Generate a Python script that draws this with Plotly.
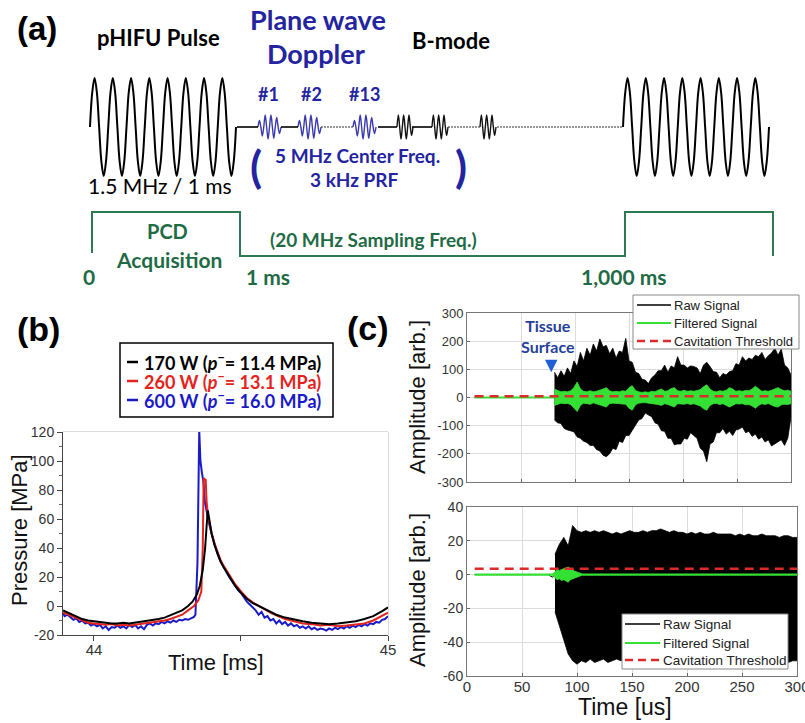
import plotly.graph_objects as go

W, H = 805, 723
CAL = "Lato, Open Sans, sans-serif"
ARIAL = "Liberation Sans, Arial, sans-serif"
BLUE = "#2424a0"
GREEN_T = "#1f6b45"

# ---------------- Panel (b) data: pressure waveforms ----------------
t_170 = [43.895, 43.92, 43.94, 43.96, 43.98, 44.00, 44.02, 44.04, 44.06, 44.08,
         44.10, 44.12, 44.14, 44.16, 44.18, 44.20, 44.22, 44.24, 44.26, 44.28,
         44.30, 44.32, 44.335, 44.35, 44.36, 44.37, 44.378, 44.383, 44.387, 44.392,
         44.40, 44.41, 44.42, 44.43, 44.44, 44.46, 44.48, 44.50, 44.52, 44.54,
         44.56, 44.58, 44.60, 44.62, 44.65, 44.68, 44.71, 44.74, 44.77, 44.80,
         44.83, 44.86, 44.89, 44.92, 44.95, 44.98, 45.00]
p_170 = [-3, -5.5, -7.5, -9, -10, -10.5, -11.5, -11.5, -12, -12,
         -11.5, -12, -11.5, -11, -10.5, -10, -9, -8, -6.5, -5,
         -3, 0, 3, 8, 14, 25, 40, 55, 66, 60,
         50, 42, 36, 31, 27, 20, 14, 9, 5, 2,
         0, -2.5, -4.5, -6, -8, -9.5, -10.5, -11.5, -12, -12.5,
         -12, -11.5, -10.5, -9, -7, -3.5, -1]

t_260 = [43.895, 43.92, 43.94, 43.96, 43.98, 44.00, 44.02, 44.04, 44.06, 44.08,
         44.10, 44.12, 44.14, 44.16, 44.18, 44.20, 44.22, 44.24, 44.26, 44.28,
         44.30, 44.32, 44.34, 44.355, 44.365, 44.37, 44.373, 44.38, 44.383, 44.388,
         44.395, 44.40, 44.41, 44.42, 44.43, 44.44, 44.46, 44.48, 44.50, 44.52,
         44.54, 44.56, 44.58, 44.60, 44.62, 44.65, 44.68, 44.71, 44.74, 44.77,
         44.80, 44.83, 44.86, 44.89, 44.92, 44.95, 44.98, 45.00]
p_260 = [-4.5, -6.5, -8.5, -10, -11.5, -12, -12.5, -13, -12.5, -13.5,
         -13, -13.5, -13, -12.5, -12, -11.5, -11, -10, -9, -7.5,
         -6, -3, 0, 4, 10, 40, 88, 87, 72, 62,
         55, 50, 43, 37, 32, 28, 21, 15, 10, 5.5,
         2.5, 0, -2, -4.5, -6.5, -9, -10.5, -12, -12.5, -13.5,
         -13, -14, -13.5, -13, -12, -10, -7, -4.5]

t_600 = [43.895, 43.90, 43.91, 43.92, 43.93, 43.94, 43.95, 43.96, 43.97, 43.98,
         43.99, 44.00, 44.01, 44.02, 44.03, 44.04, 44.05, 44.06, 44.07, 44.08,
         44.09, 44.10, 44.11, 44.12, 44.13, 44.14, 44.15, 44.16, 44.17, 44.18,
         44.19, 44.20, 44.21, 44.22, 44.23, 44.24, 44.25, 44.26, 44.27, 44.28,
         44.29, 44.30, 44.31, 44.32, 44.33, 44.34, 44.345, 44.352, 44.358, 44.362,
         44.367, 44.372, 44.377, 44.383, 44.39, 44.40, 44.41, 44.42, 44.43, 44.44,
         44.45, 44.46, 44.47, 44.48, 44.49, 44.50, 44.51, 44.52, 44.53, 44.54,
         44.55, 44.56, 44.57, 44.58, 44.59, 44.60, 44.61, 44.62, 44.63, 44.64,
         44.65, 44.66, 44.67, 44.68, 44.69, 44.70, 44.71, 44.72, 44.73, 44.74,
         44.75, 44.76, 44.77, 44.78, 44.79, 44.80, 44.81, 44.82, 44.83, 44.84,
         44.85, 44.86, 44.87, 44.88, 44.89, 44.90, 44.91, 44.92, 44.93, 44.94,
         44.95, 44.96, 44.97, 44.98, 44.99, 45.00]
p_600 = [-5, -7, -6, -8, -9.5, -8.5, -11, -10, -12, -11.5,
         -13.5, -12.5, -14, -13, -15.5, -14, -16.5, -14.5, -15, -13.5,
         -15, -14, -15.5, -13, -14.5, -13, -15.5, -14, -16, -13,
         -12, -13.5, -12, -12.5, -11, -12, -10.5, -11.5, -10, -11,
         -9.5, -10, -9, -9.5, -8.5, -7.5, -6, 30, 121, 100,
         92, 86, 72, 64, 58, 50, 42, 36, 31, 27,
         24, 20, 17, 14, 11, 9, 6, 3, 1, -1,
         -3, -6, -4, -8, -7, -10, -9, -12, -10, -12.5,
         -11, -13.5, -12, -14, -13, -15, -14, -15.5, -14, -16,
         -15, -16.5, -15.5, -16, -17, -15.5, -16.5, -15, -16, -14.5,
         -15.5, -14, -15, -13.5, -14.5, -13, -14, -12.5, -13.5, -12,
         -12.5, -11, -11.5, -9.5, -9, -7]

b_legend = ["170 W (<i>p</i><sup>−</sup>= 11.4 MPa)",
            "260 W (<i>p</i><sup>−</sup>= 13.1 MPa)",
            "600 W (<i>p</i><sup>−</sup>= 16.0 MPa)"]
b_colors = ["#000000", "#e3231c", "#1a1ac8"]
b_yticks = [-20, 0, 20, 40, 60, 80, 100, 120]
b_xticks = [44, 44.5, 45]
b_xticklabels = ["44", "", "45"]

# ---------------- Panel (c) data: PCD signals ----------------
t_quiet = [7, 81]
quiet_top = [0, 0]
t_top = list(range(81, 301, 3))
raw_top_hi = [90, 70, 95, 75, 105, 85, 130, 110, 160, 130,
              175, 150, 190, 165, 208, 180, 185, 155, 175, 140,
              165, 160, 210, 130, 125, 90, 85, 65, 62, 50,
              70, 80, 95, 95, 115, 90, 112, 105, 145, 115,
              115, 105, 112, 110, 105, 85, 115, 125, 110, 92,
              90, 70, 85, 80, 92, 95, 120, 115, 145, 130,
              140, 135, 150, 145, 160, 135, 148, 158, 175, 150,
              172, 115, 105, 80]
raw_top_lo = [-80, -90, -92, -110, -115, -118, -122, -140, -145, -155,
              -160, -170, -170, -185, -190, -205, -210, -200, -180, -185,
              -155, -160, -135, -135, -115, -100, -80, -75, -55, -62,
              -68, -90, -95, -118, -120, -145, -145, -168, -165, -165,
              -145, -148, -125, -135, -145, -180, -190, -228, -165, -158,
              -125, -125, -110, -130, -120, -135, -115, -112, -105, -125,
              -120, -138, -130, -148, -140, -158, -150, -172, -165, -158,
              -150, -170, -145, -70]
filt_top_hi = [30, 25, 20, 22, 20, 24, 35, 55, 30, 22,
               20, 24, 20, 22, 25, 30, 35, 24, 20, 22,
               20, 24, 22, 35, 42, 25, 20, 18, 20, 18,
               22, 20, 26, 30, 22, 24, 32, 35, 24, 22,
               26, 22, 24, 22, 25, 28, 38, 45, 30, 22,
               20, 24, 22, 26, 35, 30, 22, 24, 22, 25,
               24, 30, 40, 30, 22, 24, 22, 26, 30, 35,
               28, 24, 26, 22]
filt_top_lo = [-28, -24, -20, -22, -21, -25, -38, -50, -28, -20,
               -22, -24, -19, -22, -26, -30, -34, -22, -20, -21,
               -22, -25, -24, -38, -45, -26, -20, -19, -18, -20,
               -21, -22, -25, -28, -22, -25, -30, -34, -22, -24,
               -24, -21, -25, -22, -26, -30, -40, -45, -28, -22,
               -21, -25, -22, -27, -34, -28, -22, -23, -22, -26,
               -25, -30, -38, -28, -22, -25, -21, -27, -32, -34,
               -26, -24, -25, -22]
thr_top = 4

t_quiet_bot = [7, 74, 76, 78, 80]
quiet_bot = [0, 0, -1, -1.5, 0]
t_bot = list(range(80, 301, 4))
raw_bot_hi = [12, 18, 22, 17, 29, 26, 25, 26, 25, 26,
              25, 26, 25, 24, 25, 24, 25, 26, 25, 25,
              26, 25, 26, 26, 27, 26, 25, 26, 25, 25,
              24, 25, 24, 25, 24, 24, 25, 24, 24, 24,
              24, 23, 24, 23, 24, 23, 23, 24, 23, 23,
              23, 22, 23, 23, 22, 22]
raw_bot_lo = [-22, -30, -38, -47, -51, -53, -51, -52, -50, -52,
              -51, -50, -52, -51, -50, -51, -50, -49, -51, -50,
              -49, -50, -49, -50, -49, -50, -49, -50, -49, -50,
              -49, -50, -49, -50, -51, -49, -50, -49, -50, -49,
              -50, -49, -50, -51, -49, -50, -51, -49, -50, -51,
              -50, -51, -50, -52, -51, -51]
t_filt_line = [7, 300]
filt_line = [0, 0]
t_filt_burst = [78, 80, 82, 84, 86, 88, 90, 92, 94, 96, 98, 100, 102, 104]
filt_burst_hi = [0.5, 2, 3, 2.5, 3, 3.5, 4, 4.5, 3.5, 2.5, 2, 1.5, 1, 0.5]
filt_burst_lo = [-0.5, -2, -3, -2.5, -3.5, -3, -4, -4.5, -3, -2.5, -2, -1.5, -1, -0.5]
thr_bot = 3.5
c_legend = ["Raw Signal", "Filtered Signal", "Cavitation Threshold"]
c_top_yticks = [-300, -200, -100, 0, 100, 200, 300]
c_bot_yticks = [-60, -40, -20, 0, 20, 40]
c_xticks = [0, 50, 100, 150, 200, 250, 300]

# ---------------- Panel (a) schematic (diagram units) ----------------
hifu_cycle = [0, 0.71, 1, 0.71, 0, -0.71, -1, -0.71]
hifu_n_cycles = 8
hifu_starts = [90, 623]
doppler_pulse = [0, 0.55, 0, -0.75, 0, 1, 0, -1, 0, 1, 0, -0.95, 0, 0.8, 0, -0.55, 0]
doppler_starts = [258, 298, 353]
bmode_pulse = [0, 1, 0, -1, 0, 1, 0, -1, 0, 1, 0, -0.7, 0]
bmode_starts = [397, 432, 480]
solid_links = [(237, 258), (281, 298), (378, 397), (412, 432)]
dotted_links = [(321, 353), (448, 480), (497, 623)]
pcd_x = [92, 92, 240, 240, 625, 625, 773, 773]
pcd_y = [253, 212, 212, 256, 256, 212, 212, 256]

BASE, HIFU_AMP, HIFU_LEN, PULSE_AMP, DOP_W, BM_W = 127, 49, 146, 12, 23, 16

fig = go.Figure()

# --- schematic traces (panel a) ---
for x0 in hifu_starts:
    xs, ys = [], []
    per = HIFU_LEN / hifu_n_cycles
    for c in range(hifu_n_cycles):
        for k, v in enumerate(hifu_cycle):
            xs.append(x0 + (c + k / len(hifu_cycle)) * per)
            ys.append(BASE - HIFU_AMP * v)
    xs.append(x0 + HIFU_LEN)
    ys.append(BASE)
    fig.add_trace(go.Scatter(x=xs, y=ys, mode="lines", line=dict(color="black", width=2, shape="spline"),
                             xaxis="x", yaxis="y", showlegend=False, hoverinfo="skip"))

def pulse_trace(starts, shape, width, color):
    xs, ys = [], []
    for x0 in starts:
        n = len(shape) - 1
        for k, v in enumerate(shape):
            xs.append(x0 + width * k / n)
            ys.append(BASE - PULSE_AMP * v)
        xs.append(None)
        ys.append(None)
    return go.Scatter(x=xs, y=ys, mode="lines", line=dict(color=color, width=1.4, shape="spline"),
                      xaxis="x", yaxis="y", showlegend=False, hoverinfo="skip")

fig.add_trace(pulse_trace(doppler_starts, doppler_pulse, DOP_W, "#3a3ab0"))
fig.add_trace(pulse_trace(bmode_starts, bmode_pulse, BM_W, "#111111"))

sx, sy = [], []
for a, b in solid_links:
    sx += [a, b, None]
    sy += [BASE, BASE, None]
fig.add_trace(go.Scatter(x=sx, y=sy, mode="lines", line=dict(color="black", width=1.6),
                         xaxis="x", yaxis="y", showlegend=False, hoverinfo="skip"))
dx, dy = [], []
for a, b in dotted_links:
    dx += [a, b, None]
    dy += [BASE, BASE, None]
fig.add_trace(go.Scatter(x=dx, y=dy, mode="lines", line=dict(color="#333333", width=1.2, dash="2px,1px"),
                         xaxis="x", yaxis="y", showlegend=False, hoverinfo="skip"))
fig.add_trace(go.Scatter(x=pcd_x, y=pcd_y, mode="lines", line=dict(color="#2e7a52", width=2),
                         xaxis="x", yaxis="y", showlegend=False, hoverinfo="skip"))

# --- panel (b) traces ---
for t, p, col in [(t_600, p_600, b_colors[2]), (t_260, p_260, b_colors[1]), (t_170, p_170, b_colors[0])]:
    fig.add_trace(go.Scatter(x=t, y=p, mode="lines", line=dict(color=col, width=2),
                             xaxis="x2", yaxis="y2", showlegend=False))

# --- panel (c) top ---
GREEN = "#35e035"
RED = "#dd2a2a"
fig.add_trace(go.Scatter(x=t_quiet, y=quiet_top, mode="lines", line=dict(color="black", width=1),
                         xaxis="x3", yaxis="y3", showlegend=False))
fig.add_trace(go.Scatter(x=t_top, y=raw_top_hi, mode="lines", line=dict(color="black", width=0.8),
                         xaxis="x3", yaxis="y3", showlegend=False))
fig.add_trace(go.Scatter(x=t_top, y=raw_top_lo, mode="lines", line=dict(color="black", width=0.8),
                         fill="tonexty", fillcolor="black", xaxis="x3", yaxis="y3", showlegend=False))
fig.add_trace(go.Scatter(x=t_quiet, y=quiet_top, mode="lines", line=dict(color=GREEN, width=2),
                         xaxis="x3", yaxis="y3", showlegend=False))
fig.add_trace(go.Scatter(x=t_top, y=filt_top_hi, mode="lines", line=dict(color=GREEN, width=0.8),
                         xaxis="x3", yaxis="y3", showlegend=False))
fig.add_trace(go.Scatter(x=t_top, y=filt_top_lo, mode="lines", line=dict(color=GREEN, width=0.8),
                         fill="tonexty", fillcolor=GREEN, xaxis="x3", yaxis="y3", showlegend=False))
fig.add_trace(go.Scatter(x=[t_quiet[0], 300], y=[thr_top, thr_top], mode="lines",
                         line=dict(color=RED, width=2.5, dash="9px,6px"),
                         xaxis="x3", yaxis="y3", showlegend=False))

# --- panel (c) bottom ---
fig.add_trace(go.Scatter(x=t_quiet_bot, y=quiet_bot, mode="lines", line=dict(color="black", width=1),
                         xaxis="x4", yaxis="y4", showlegend=False))
fig.add_trace(go.Scatter(x=t_bot, y=raw_bot_hi, mode="lines", line=dict(color="black", width=0.8),
                         xaxis="x4", yaxis="y4", showlegend=False))
fig.add_trace(go.Scatter(x=t_bot, y=raw_bot_lo, mode="lines", line=dict(color="black", width=0.8),
                         fill="tonexty", fillcolor="black", xaxis="x4", yaxis="y4", showlegend=False))
fig.add_trace(go.Scatter(x=t_filt_line, y=filt_line, mode="lines", line=dict(color=GREEN, width=2.2),
                         xaxis="x4", yaxis="y4", showlegend=False))
fig.add_trace(go.Scatter(x=t_filt_burst, y=filt_burst_hi, mode="lines", line=dict(color=GREEN, width=0.8),
                         xaxis="x4", yaxis="y4", showlegend=False))
fig.add_trace(go.Scatter(x=t_filt_burst, y=filt_burst_lo, mode="lines", line=dict(color=GREEN, width=0.8),
                         fill="tonexty", fillcolor=GREEN, xaxis="x4", yaxis="y4", showlegend=False))
fig.add_trace(go.Scatter(x=[t_quiet[0], 300], y=[thr_bot, thr_bot], mode="lines",
                         line=dict(color=RED, width=2.5, dash="9px,6px"),
                         xaxis="x4", yaxis="y4", showlegend=False))

def px(x):
    return x / W

def py(y):
    return 1 - y / H

ann = []
shapes = []

def T(text, x, y, size, color="black", family=CAL, bold=False, xanchor="center", angle=0):
    if bold:
        text = "<b>" + text + "</b>"
    ann.append(dict(text=text, x=px(x), y=py(y), xref="paper", yref="paper", showarrow=False,
                    xanchor=xanchor, yanchor="middle", textangle=angle,
                    font=dict(family=family, size=size, color=color)))

# panel labels
T("(a)", 37, 29, 33, family=ARIAL, bold=True)
T("(b)", 38, 329, 34, family=ARIAL, bold=True)
T("(c)", 368, 328, 34, family=ARIAL, bold=True)

# panel (a) text
T("pHIFU Pulse", 158, 37, 22, bold=True)
T("Plane wave", 318, 19, 27, color=BLUE, bold=True)
T("Doppler", 316, 54, 27, color=BLUE, bold=True)
T("B-mode", 451, 40, 22, bold=True)
T("#1", 268, 94, 18, color=BLUE, bold=True)
T("#2", 311, 94, 18, color=BLUE, bold=True)
T("#13", 364, 94, 18, color=BLUE, bold=True)
T("(", 256, 166, 44, color=BLUE, bold=True)
T(")", 461, 166, 44, color=BLUE, bold=True)
T("5 MHz Center Freq.", 357, 155, 19, color=BLUE, bold=True)
T("3 kHz PRF", 354, 179, 19, color=BLUE, bold=True)
T("1.5 MHz / 1 ms", 160, 186, 21)
T("PCD", 167, 231, 20, color=GREEN_T, bold=True)
T("Acquisition", 169, 259, 21, color=GREEN_T, bold=True)
T("0", 89, 276, 21, color=GREEN_T, bold=True)
T("1 ms", 268, 276, 21, color=GREEN_T, bold=True)
T("(20 MHz Sampling Freq.)", 373, 240, 19, color=GREEN_T, bold=True)
T("1,000 ms", 624, 276, 21, color=GREEN_T, bold=True)

# axis titles
T("Pressure [MPa]", 19, 530, 22, color="#111", family=ARIAL, angle=-90)
T("Time [ms]", 216, 662, 22, color="#111", family=ARIAL)
T("Amplitude [arb.]", 417, 397, 22, color="#111", family=ARIAL, angle=-90)
T("Amplitude [arb.]", 417, 590, 22, color="#111", family=ARIAL, angle=-90)
T("Time [us]", 625, 707, 23, color="#111", family=ARIAL)

# tissue surface annotation
ann.append(dict(text="<b>Tissue<br>Surface</b>", x=px(548), y=py(336), xref="paper", yref="paper",
                showarrow=False, font=dict(family=CAL, size=16, color="#24409a"),
                xanchor="center", yanchor="middle"))
ann.append(dict(text="", x=78, y=90, xref="x3", yref="y3", showarrow=True, ax=0, ay=-13,
                arrowhead=2, arrowsize=1, arrowwidth=2.5, arrowcolor="#1f5fd6"))

# panel (b) legend
shapes.append(dict(type="rect", xref="paper", yref="paper", x0=px(120), x1=px(333), y0=py(417), y1=py(343),
                   line=dict(color="black", width=1.5), fillcolor="white", layer="above"))
for i, (lab, col) in enumerate(zip(b_legend, b_colors)):
    yy = 362 + 19 * i
    shapes.append(dict(type="line", xref="paper", yref="paper", x0=px(127), x1=px(138), y0=py(yy), y1=py(yy),
                       line=dict(color=col, width=2.5)))
    T(lab, 142, yy, 18, color=col, bold=True, xanchor="left")

# panel (c) legends
def c_leg(x0, x1, y0, y1, lx0, lx1, tx, ys, size):
    shapes.append(dict(type="rect", xref="paper", yref="paper", x0=px(x0), x1=px(x1), y0=py(y1), y1=py(y0),
                       line=dict(color="#888", width=1), fillcolor="white", layer="above"))
    styles = [dict(color="black", width=1.3), dict(color=GREEN, width=2), dict(color=RED, width=2.5, dash="8px,5px")]
    for lab, st, yy in zip(c_legend, styles, ys):
        shapes.append(dict(type="line", xref="paper", yref="paper", x0=px(lx0), x1=px(lx1), y0=py(yy), y1=py(yy),
                           line=st))
        T(lab, tx, yy, size, color="#222", family=ARIAL, xanchor="left")

c_leg(633, 799, 295, 349, 637, 671, 672, [305, 323, 341], 13)
c_leg(622, 788, 614, 669, 625, 660, 661, [624, 643, 660], 13.5)

# panel (b) light frame
shapes.append(dict(type="rect", xref="x2 domain", yref="y2 domain", x0=0, x1=1, y0=0, y1=1,
                   line=dict(color="#b8b8b8", width=1), layer="below"))

fig.update_layout(
    width=W, height=H, autosize=False, margin=dict(l=0, r=0, t=0, b=0, pad=0, autoexpand=False),
    paper_bgcolor="white", plot_bgcolor="white", showlegend=False,
    xaxis=dict(domain=[0, 1], range=[0, W], visible=False, fixedrange=True, automargin=False),
    yaxis=dict(domain=[0, 1], range=[H, 0], visible=False, fixedrange=True, automargin=False),
    xaxis2=dict(domain=[px(63), px(388)], anchor="y2", range=[43.8946, 45.0], automargin=False,
                tickvals=b_xticks, ticktext=b_xticklabels, ticks="outside", ticklen=5, tickcolor="#444",
                ticklabelstandoff=-4,
                showline=True, linecolor="#444", linewidth=1, showgrid=False, zeroline=False,
                tickfont=dict(family=ARIAL, size=15, color="#333")),
    yaxis2=dict(domain=[py(635), py(432)], anchor="x2", range=[-20, 120], automargin=False,
                tickvals=b_yticks, ticktext=[str(v) for v in b_yticks], ticks="outside", ticklen=5,
                tickcolor="#444", minor=dict(tickvals=[-10, 10, 30, 50, 70, 90, 110], ticks="outside",
                                             ticklen=3, tickcolor="#666"),
                showline=True, linecolor="#444", linewidth=1, showgrid=False, zeroline=False,
                tickfont=dict(family=ARIAL, size=14, color="#333")),
    xaxis3=dict(domain=[px(467), px(791)], anchor="y3", range=[0, 300], tickvals=c_xticks, automargin=False,
                showticklabels=False, ticks="inside", ticklen=3, tickcolor="#666",
                showline=True, mirror=True, linecolor="#777", linewidth=1,
                showgrid=True, gridcolor="#dcdcdc", zeroline=False),
    yaxis3=dict(domain=[py(482), py(313)], anchor="x3", range=[-300, 300], tickvals=c_top_yticks,
                automargin=False,
                ticktext=[str(v) for v in c_top_yticks], ticks="inside", ticklen=3, tickcolor="#666",
                showline=True, mirror=True, linecolor="#777", linewidth=1,
                showgrid=True, gridcolor="#dcdcdc", zeroline=False,
                tickfont=dict(family=ARIAL, size=13, color="#333")),
    xaxis4=dict(domain=[px(467), px(797)], anchor="y4", range=[0, 300], tickvals=c_xticks, automargin=False,
                ticktext=[str(v) for v in c_xticks], ticks="inside", ticklen=3, tickcolor="#666",
                ticklabeloverflow="allow", ticklabelstandoff=-3,
                showline=True, mirror=True, linecolor="#777", linewidth=1,
                showgrid=True, gridcolor="#dcdcdc", zeroline=False,
                tickfont=dict(family=ARIAL, size=15, color="#333")),
    yaxis4=dict(domain=[py(676), py(507)], anchor="x4", range=[-60, 40], tickvals=c_bot_yticks,
                automargin=False,
                ticktext=[str(v) for v in c_bot_yticks], ticks="inside", ticklen=3, tickcolor="#666",
                showline=True, mirror=True, linecolor="#777", linewidth=1,
                showgrid=True, gridcolor="#dcdcdc", zeroline=False,
                tickfont=dict(family=ARIAL, size=14, color="#333")),
    annotations=ann, shapes=shapes,
)

fig.write_html("out.html", config={"responsive": False},
               post_script="document.body.style.margin='0px';document.body.style.overflow='hidden';")
